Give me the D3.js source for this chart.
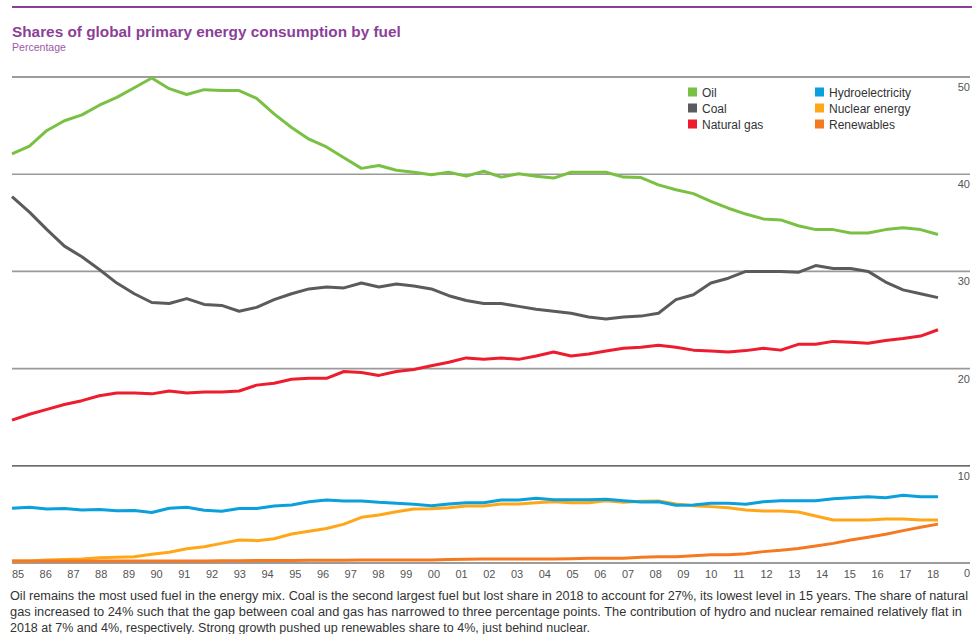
<!DOCTYPE html>
<html>
<head>
<meta charset="utf-8">
<script src="https://cdn.jsdelivr.net/npm/d3@7"></script>
<style>
html,body{margin:0;padding:0;background:#fff;}
svg{display:block;}
</style>
</head>
<body>
<svg id="chart" width="972" height="634"></svg>
<script>
// ---- Data ----
const years = [1965,1966,1967,1968,1969,1970,1971,1972,1973,1974,1975,1976,1977,1978,1979,1980,1981,1982,1983,1984,1985,1986,1987,1988,1989,1990,1991,1992,1993,1994,1995,1996,1997,1998,1999,2000,2001,2002,2003,2004,2005,2006,2007,2008,2009,2010,2011,2012,2013,2014,2015,2016,2017,2018];
const tickLabels = ["85","86","87","88","89","90","91","92","93","94","95","96","97","98","99","00","01","02","03","04","05","06","07","08","09","10","11","12","13","14","15","16","17","18"];
const yTicks = [0,10,20,30,40,50];

const oil = [42.1,42.9,44.5,45.5,46.1,47.1,47.9,48.9,49.9,48.8,48.2,48.7,48.6,48.6,47.8,46.2,44.8,43.6,42.8,41.7,40.6,40.9,40.4,40.2,39.95,40.2,39.8,40.3,39.7,40.05,39.8,39.6,40.2,40.2,40.2,39.7,39.65,38.9,38.4,38.0,37.2,36.5,35.9,35.4,35.3,34.7,34.3,34.3,33.95,33.95,34.3,34.5,34.3,33.8];
const coal = [37.7,36.1,34.3,32.6,31.5,30.2,28.8,27.7,26.8,26.7,27.2,26.6,26.5,25.9,26.3,27.1,27.7,28.2,28.4,28.3,28.8,28.4,28.7,28.5,28.2,27.5,27.0,26.7,26.7,26.4,26.1,25.9,25.7,25.3,25.1,25.3,25.4,25.7,27.1,27.6,28.8,29.3,30.0,30.0,30.0,29.9,30.6,30.3,30.3,30.0,28.9,28.1,27.7,27.3];
const gas = [14.7,15.3,15.8,16.3,16.7,17.2,17.5,17.5,17.4,17.7,17.5,17.6,17.6,17.7,18.3,18.5,18.9,19.0,19.0,19.7,19.6,19.3,19.7,19.9,20.3,20.65,21.1,20.95,21.1,20.95,21.3,21.7,21.3,21.5,21.8,22.1,22.2,22.4,22.2,21.9,21.8,21.7,21.85,22.1,21.9,22.5,22.5,22.8,22.7,22.6,22.9,23.1,23.35,24.0];
const hydro = [5.63,5.73,5.56,5.6,5.45,5.5,5.38,5.4,5.2,5.63,5.73,5.42,5.32,5.6,5.6,5.86,5.97,6.3,6.48,6.38,6.38,6.24,6.14,6.04,5.9,6.07,6.2,6.2,6.48,6.48,6.65,6.51,6.51,6.51,6.55,6.41,6.28,6.31,5.95,5.97,6.14,6.14,6.04,6.31,6.41,6.41,6.41,6.62,6.72,6.82,6.72,6.96,6.82,6.82];
const nuclear = [0.2,0.2,0.3,0.35,0.4,0.55,0.6,0.65,0.9,1.1,1.47,1.68,2.02,2.37,2.3,2.5,2.98,3.26,3.55,4.0,4.7,4.94,5.28,5.56,5.59,5.69,5.86,5.86,6.07,6.07,6.2,6.31,6.2,6.2,6.41,6.24,6.35,6.38,6.07,5.9,5.8,5.69,5.45,5.35,5.35,5.25,4.84,4.42,4.42,4.42,4.53,4.53,4.42,4.42];
const renewables = [0.2,0.2,0.2,0.2,0.2,0.2,0.2,0.2,0.2,0.2,0.2,0.2,0.22,0.22,0.25,0.25,0.25,0.28,0.28,0.28,0.3,0.3,0.3,0.32,0.32,0.35,0.38,0.4,0.4,0.4,0.4,0.42,0.45,0.48,0.5,0.5,0.6,0.65,0.65,0.75,0.86,0.86,0.96,1.17,1.3,1.5,1.75,2.02,2.37,2.64,2.95,3.33,3.67,4.0];

const seriesNames = ["Oil","Coal","Natural gas","Hydroelectricity","Nuclear energy","Renewables"];
const seriesValues = [oil, coal, gas, hydro, nuclear, renewables];
const seriesColors = ["#7ac143","#5b5b5d","#ed1c2e","#0aa0dc","#ffa718","#f47920"];
const drawOrder = [0,1,2,4,3,5];

const title = "Shares of global primary energy consumption by fuel";
const subtitle = "Percentage";
const noteLines = [
  "Oil remains the most used fuel in the energy mix. Coal is the second largest fuel but lost share in 2018 to account for 27%, its lowest level in 15 years. The share of natural",
  "gas increased to 24% such that the gap between coal and gas has narrowed to three percentage points. The contribution of hydro and nuclear remained relatively flat in",
  "2018 at 7% and 4%, respectively. Strong growth pushed up renewables share to 4%, just behind nuclear."
];

// ---- Drawing ----
const svg = d3.select("#chart");
const purple = "#8b3f98";
const font = "'Liberation Sans', Arial, sans-serif";

svg.append("line").attr("x1",12).attr("x2",972).attr("y1",7).attr("y2",7)
  .attr("stroke",purple).attr("stroke-width",2);

function fitText(sel, target){
  const w = sel.node().getComputedTextLength();
  const fs = parseFloat(sel.attr("font-size"));
  sel.attr("font-size", (fs*target/w).toFixed(2));
}

const t = svg.append("text").attr("x",12).attr("y",37).text(title)
  .attr("font-family",font).attr("font-weight","bold").attr("font-size",15).attr("fill",purple);
fitText(t, 389);
const st = svg.append("text").attr("x",12).attr("y",51).text(subtitle)
  .attr("font-family",font).attr("font-size",11).attr("fill","#9c5aab");
fitText(st, 54);

const x = d3.scalePoint().domain(years).range([12, 938]);
const xt = d3.scalePoint().domain(tickLabels).range([18, 933]);
const y = d3.scaleLinear().domain([0,50]).range([563,77]);

// gridlines
const grid = svg.append("g");
yTicks.forEach(v=>{
  const dark = (v===0 || v===10 || v===50);
  grid.append("line").attr("x1",12).attr("x2",970)
    .attr("y1",y(v)).attr("y2",y(v))
    .attr("stroke", dark ? "#3a3a3a" : "#9a9a9a")
    .attr("stroke-width", dark ? 1.2 : 1.6);
  grid.append("text").attr("x",970).attr("y",y(v)+14).attr("text-anchor","end")
    .attr("font-family",font).attr("font-size",11).attr("fill","#555").text(v);
});

// x tick labels
svg.append("g").selectAll("text").data(tickLabels).join("text")
  .attr("x",d=>xt(d)).attr("y",578).attr("text-anchor","middle")
  .attr("font-family",font).attr("font-size",11).attr("fill","#555").text(d=>d);

// lines
const line = d3.line().x((d,i)=>x(years[i])).y(d=>y(d));
drawOrder.forEach(k=>{
  svg.append("path").datum(seriesValues[k]).attr("d",line)
    .attr("fill","none").attr("stroke",seriesColors[k]).attr("stroke-width",3)
    .attr("stroke-linejoin","round");
});

// legend
const legend = svg.append("g");
seriesNames.forEach((n,i)=>{
  const col = Math.floor(i/3), row = i%3;
  const lx = 688 + col*127, ly = 92 + row*16;
  legend.append("rect").attr("x",lx).attr("y",ly-4.5).attr("width",9).attr("height",9).attr("fill",seriesColors[i]);
  legend.append("text").attr("x",lx+14).attr("y",ly+4.5)
    .attr("font-family",font).attr("font-size",12).attr("fill","#333").text(n);
});

// note
const noteWidths = [958, 952, null];
noteLines.forEach((s,i)=>{
  const tx = svg.append("text").attr("x",10).attr("y",600+i*16)
    .attr("font-family","'Liberation Sans Narrow','Arial Narrow','Liberation Sans',sans-serif")
    .attr("font-size",12.5).attr("fill","#333").text(s);
  if(noteWidths[i]) tx.attr("textLength",noteWidths[i]).attr("lengthAdjust","spacingAndGlyphs");
});
</script>
</body>
</html>
